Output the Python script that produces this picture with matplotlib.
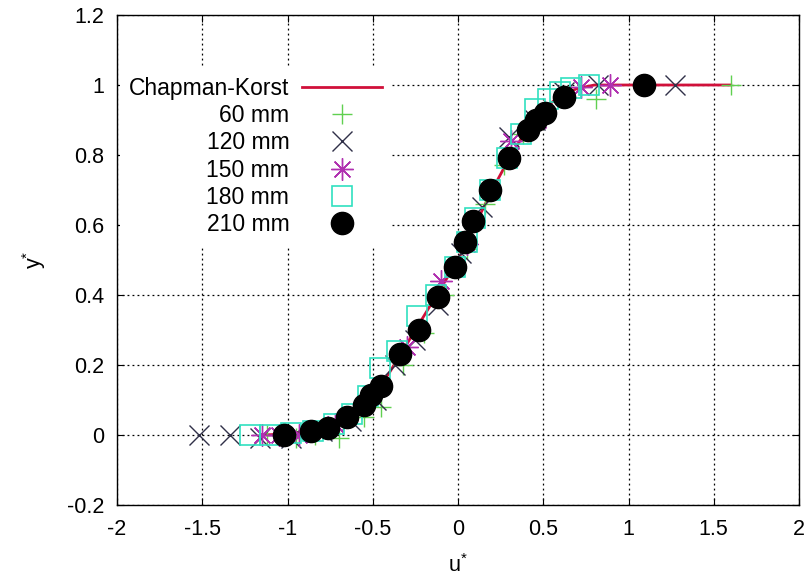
"""Normalised velocity profiles u* vs y* against the Chapman-Korst profile."""
import matplotlib
matplotlib.use("Agg")
import matplotlib.pyplot as plt

plt.rcParams["font.family"] = ["Liberation Sans", "DejaVu Sans"]
plt.rcParams["mathtext.fontset"] = "custom"
plt.rcParams["mathtext.rm"] = "Liberation Sans"
plt.rcParams["mathtext.it"] = "Liberation Sans"

# Chapman-Korst theoretical profile
ck_u = [-1.15, -1.0, -0.9, -0.8, -0.7, -0.6, -0.5, -0.4, -0.3, -0.2, -0.1, 0.0,
        0.1, 0.2, 0.3, 0.4, 0.5, 0.6, 0.7, 0.8, 1.0, 1.6]
ck_y = [0.0, 0.003, 0.01, 0.02, 0.04, 0.07, 0.11, 0.18, 0.26, 0.34, 0.42, 0.50,
        0.60, 0.70, 0.79, 0.87, 0.93, 0.97, 0.99, 1.0, 1.0, 1.0]

u60 = [-1.12, -0.95, -0.84, -0.70, -0.55, -0.45, -0.32, -0.20, -0.08, 0.05, 0.16, 0.27, 0.38, 0.48, 0.81, 1.60]
y60 = [0.0, -0.01, 0.0, -0.01, 0.05, 0.08, 0.20, 0.29, 0.40, 0.53, 0.66, 0.77, 0.86, 0.91, 0.96, 1.0]

u120 = [-1.52, -1.34, -1.16, -0.98, -0.80, -0.63, -0.48, -0.37, -0.25, -0.12, 0.02, 0.14, 0.30, 0.45, 0.62, 0.82, 1.27]
y120 = [0.0, 0.0, -0.01, -0.01, 0.01, 0.04, 0.10, 0.20, 0.27, 0.37, 0.52, 0.65, 0.85, 0.90, 0.98, 1.0, 1.0]

u150 = [-1.15, -1.05, -0.93, -0.72, -0.50, -0.30, -0.10, 0.05, 0.31, 0.47, 0.72, 0.89]
y150 = [0.0, 0.0, 0.0, 0.03, 0.12, 0.25, 0.44, 0.545, 0.84, 0.90, 0.995, 1.0]

u180 = [-1.22, -1.10, -0.98, -0.85, -0.73, -0.62, -0.53, -0.46, -0.36, -0.24, -0.13, -0.02,
        0.05, 0.10, 0.19, 0.29, 0.37, 0.45, 0.53, 0.60, 0.66, 0.77]
y180 = [0.0, 0.0, 0.005, 0.01, 0.03, 0.06, 0.11, 0.19, 0.24, 0.34, 0.40, 0.48,
        0.55, 0.62, 0.70, 0.79, 0.86, 0.93, 0.96, 0.98, 0.99, 1.0]

u210 = [-1.02, -0.86, -0.76, -0.65, -0.55, -0.51, -0.45, -0.34, -0.23, -0.12, -0.02, 0.04,
        0.09, 0.19, 0.30, 0.41, 0.46, 0.51, 0.62, 1.09]
y210 = [0.0, 0.01, 0.02, 0.05, 0.085, 0.115, 0.14, 0.23, 0.30, 0.395, 0.48, 0.55,
        0.61, 0.70, 0.79, 0.87, 0.90, 0.92, 0.965, 1.0]

fig = plt.figure(figsize=(8.09, 5.78), dpi=100)
ax = fig.add_axes([117 / 809, 1 - 505 / 578, (799 - 117) / 809, (505 - 15) / 578])

ax.plot(ck_u, ck_y, color="#d0103a", linewidth=2.0, label="Chapman-Korst", zorder=2)
ax.plot(u60, y60, linestyle="none", marker="+", markersize=15, markeredgewidth=1.0,
        color="#60d050", label="60 mm", zorder=3)
ax.plot(u120, y120, linestyle="none", marker="x", markersize=15, markeredgewidth=1.0,
        color="#303048", label="120 mm", zorder=3)
ax.plot(u150, y150, linestyle="none", marker=(8, 2, 0), markersize=16, markeredgewidth=1.0,
        color="#b030b0", label="150 mm", zorder=3)
ax.plot(u180, y180, linestyle="none", marker="s", markersize=14, markeredgewidth=1.2,
        markerfacecolor="none", color="#30e0c0", label="180 mm", zorder=3)
ax.plot(u210, y210, linestyle="none", marker="o", markersize=16,
        color="black", label="210 mm", zorder=4)

ax.set_xlim(-2, 2)
ax.set_ylim(-0.2, 1.2)
ax.set_xticks([-2, -1.5, -1, -0.5, 0, 0.5, 1, 1.5, 2])
ax.set_xticklabels(["-2", "-1.5", "-1", "-0.5", "0", "0.5", "1", "1.5", "2"])
ax.set_yticks([-0.2, 0, 0.2, 0.4, 0.6, 0.8, 1, 1.2])
ax.set_yticklabels(["-0.2", "0", "0.2", "0.4", "0.6", "0.8", "1", "1.2"])
ax.tick_params(direction="in", top=True, right=True, labelsize=15.5, length=5)
ax.tick_params(axis="x", pad=10)
ax.tick_params(axis="y", pad=9)
ax.grid(color="black", linestyle=(0, (1.5, 2.5)), linewidth=0.9)
ax.set_axisbelow(True)
for s in ax.spines.values():
    s.set_linewidth(1.0)

ax.set_xlabel(r"u$^{*}$", fontsize=15.5, labelpad=10)
ax.set_ylabel(r"y$^{*}$", fontsize=15.5, labelpad=14)

# key sits on an opaque white patch, hiding the grid behind it
leg = ax.legend(loc="upper left", bbox_to_anchor=(0.004, 0.893), frameon=True, markerfirst=False,
                fontsize=16.5, handlelength=3.5, labelspacing=0.19, handletextpad=0.55,
                borderpad=0.4, borderaxespad=0, fancybox=False)
leg.get_frame().set_facecolor("white")
leg.get_frame().set_edgecolor("none")
leg.get_frame().set_alpha(1.0)

fig.savefig("out.png", dpi=100)
